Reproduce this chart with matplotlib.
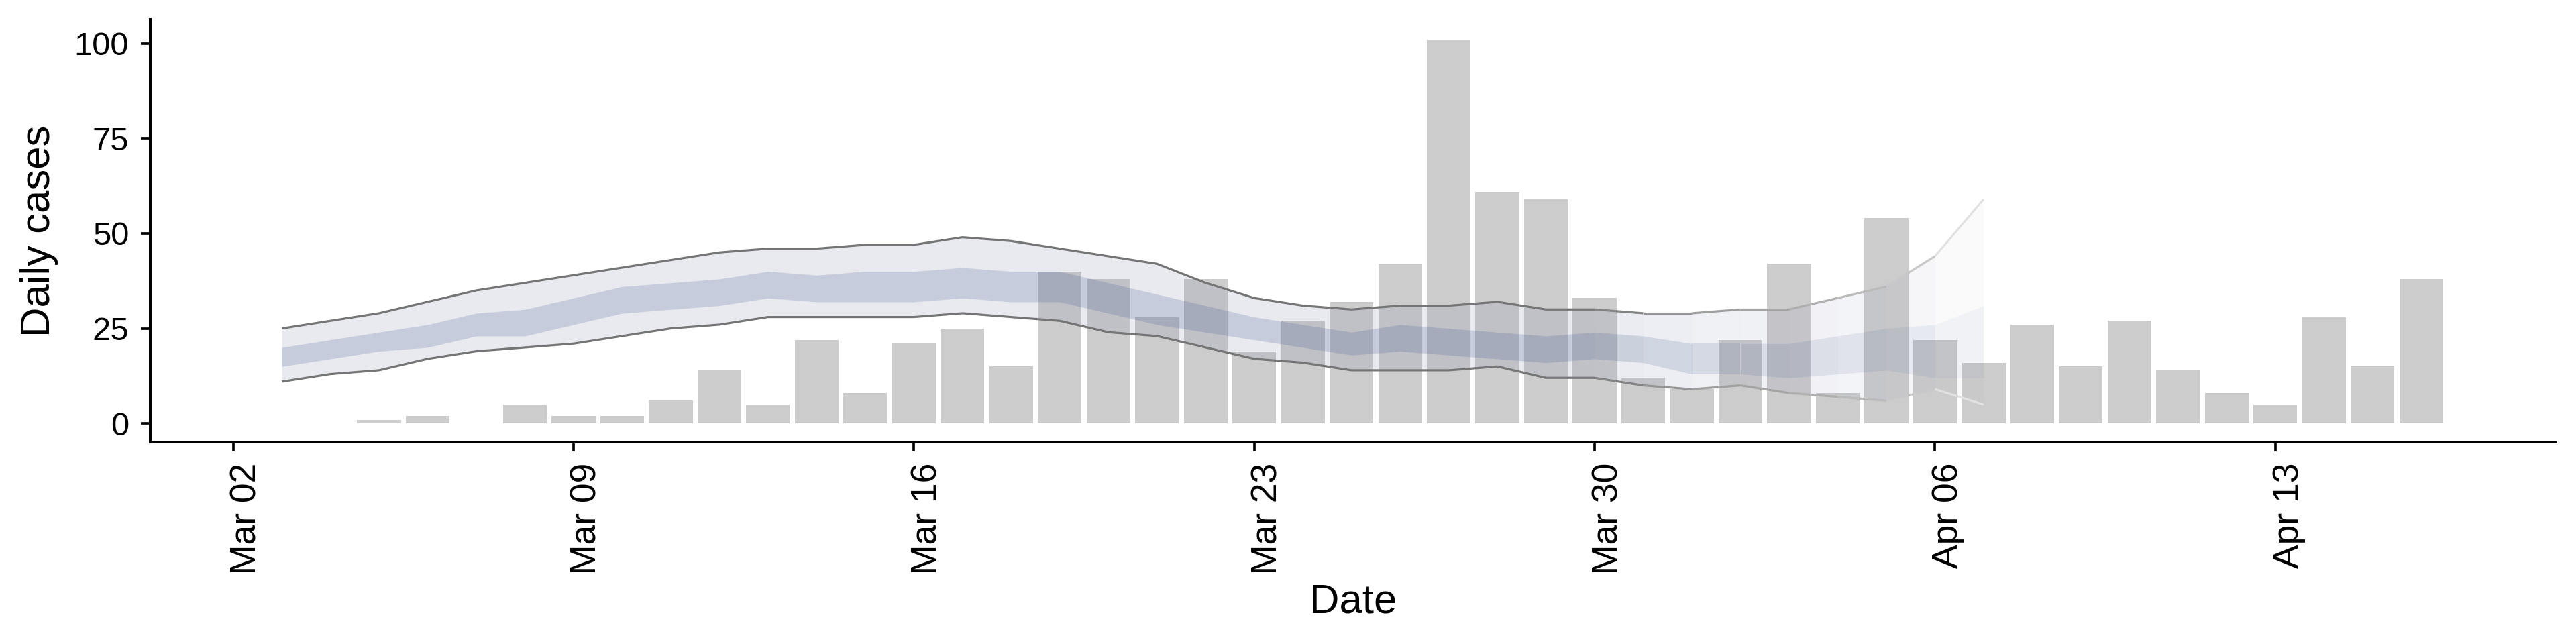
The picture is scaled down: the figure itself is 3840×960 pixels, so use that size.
import numpy as np
import pandas as pd
import matplotlib
matplotlib.use("Agg")
import matplotlib.pyplot as plt
import matplotlib.dates as mdates
from matplotlib.transforms import ScaledTranslation

plt.rcParams['font.family'] = ['Liberation Sans', 'DejaVu Sans']

# ---------------- data ----------------
case_start, case_end = "2020-03-05", "2020-04-16"
cases = [1, 2, 0, 5, 2, 2, 6, 14, 5, 22, 8,          # Mar 05 - Mar 15
         21, 25, 15, 40, 38, 28, 38, 19, 27, 32,      # Mar 16 - Mar 25
         42, 101, 61, 59, 33, 12, 9, 22, 42, 8,       # Mar 26 - Apr 04
         54, 22, 16, 26, 15, 27, 14, 8, 5, 28, 15, 38]  # Apr 05 - Apr 16

est_start, est_end = "2020-03-03", "2020-04-07"
upper90 = [25, 27, 29, 32, 35, 37, 39, 41, 43, 45, 46, 46, 47, 47, 49, 48, 46, 44,
           42, 37, 33, 31, 30, 31, 31, 32, 30, 30, 29, 29, 30, 30, 33, 36, 44, 59]
lower90 = [11, 13, 14, 17, 19, 20, 21, 23, 25, 26, 28, 28, 28, 28, 29, 28, 27, 24,
           23, 20, 17, 16, 14, 14, 14, 15, 12, 12, 10, 9, 10, 8, 7, 6, 9, 5]
upper50 = [20, 22, 24, 26, 29, 30, 33, 36, 37, 38, 40, 39, 40, 40, 41, 40, 40, 37,
           34, 31, 28, 26, 24, 26, 25, 24, 23, 24, 23, 21, 21, 21, 23, 25, 26, 31]
lower50 = [15, 17, 19, 20, 23, 23, 26, 29, 30, 31, 33, 32, 32, 32, 33, 32, 32, 29,
           26, 24, 22, 20, 18, 19, 18, 17, 16, 17, 16, 13, 13, 12, 13, 14, 12, 12]
confidence = [1.0] * 27 + [0.9, 0.78, 0.7, 0.66, 0.58, 0.5, 0.4, 0.22, 0.1]

tick_dates = ["2020-03-02", "2020-03-09", "2020-03-16", "2020-03-23",
              "2020-03-30", "2020-04-06", "2020-04-13"]
tick_labels = ["Mar 02", "Mar 09", "Mar 16", "Mar 23", "Mar 30", "Apr 06", "Apr 13"]
y_ticks = [0, 25, 50, 75, 100]
x_title, y_title = "Date", "Daily cases"

# ---------------- styling ----------------
W, H, DPI = 3840, 960, 240
BAR_COL = "#cccccc"
OUTER = np.array([145, 150, 180]) / 255
INNER = np.array([58, 84, 135]) / 255
BAND_ALPHA = 0.2
LINE_DARK = 0.54  # darkness of bound lines at full confidence

fig = plt.figure(figsize=(W / DPI, H / DPI), dpi=DPI)
ax = fig.add_axes([224 / W, (H - 659) / H, (3810 - 224) / W, (659 - 29) / H])

cx = mdates.date2num(pd.date_range(case_start, case_end, freq="D"))
ex = mdates.date2num(pd.date_range(est_start, est_end, freq="D"))

ax.bar(cx, cases, width=0.9, color=BAR_COL, linewidth=0, zorder=1)

u90, l90 = np.array(upper90, float), np.array(lower90, float)
u50, l50 = np.array(upper50, float), np.array(lower50, float)
conf = np.array(confidence, float)

# group segments by confidence runs
n = len(ex)
runs = []
i = 0
while i < n - 1:
    j = i
    while j + 1 < n - 1 and conf[j + 1] == conf[i]:
        j += 1
    runs.append((i, j + 1, conf[i]))
    i = j + 1

for (a, b, c) in runs:
    sl = slice(a, b + 1)
    ax.fill_between(ex[sl], l90[sl], u90[sl], color=OUTER, alpha=BAND_ALPHA * c,
                    linewidth=0, zorder=2)
    ax.fill_between(ex[sl], l50[sl], u50[sl], color=INNER, alpha=BAND_ALPHA * c,
                    linewidth=0, zorder=3)
    g = 1 - LINE_DARK * c
    for arr in (u90, l90):
        ax.plot(ex[sl], arr[sl], color=(g, g, g), linewidth=0.95,
                solid_capstyle="butt", solid_joinstyle="round", zorder=4)

ax.set_xlim(mdates.date2num(pd.Timestamp("2020-03-02")) - 1.705,
            mdates.date2num(pd.Timestamp("2020-03-02")) + 47.77)
ax.set_ylim(-4.9, 106.3)

for s in ("top", "right"):
    ax.spines[s].set_visible(False)
for s in ("left", "bottom"):
    ax.spines[s].set_linewidth(1.2)
    ax.spines[s].set_color("black")
ax.tick_params(axis="both", length=4.2, width=1.1, color="black", labelcolor="black")
ax.tick_params(axis="x", pad=5)
ax.tick_params(axis="y", pad=5.4)

ax.set_xticks(mdates.date2num(pd.to_datetime(tick_dates)))
ax.set_xticklabels(tick_labels, rotation=90, fontsize=16)
ax.set_yticks(y_ticks)
ax.set_yticklabels([str(v) for v in y_ticks], fontsize=14.7)

shift = ScaledTranslation(20 / DPI, 0, fig.dpi_scale_trans)
for lab in ax.get_xticklabels():
    lab.set_transform(lab.get_transform() + shift)

ax.set_xlabel(x_title, fontsize=18.5, labelpad=4)
ax.set_ylabel(y_title, fontsize=18.5, labelpad=7)

fig.savefig("out.png", dpi=DPI, facecolor="white")
